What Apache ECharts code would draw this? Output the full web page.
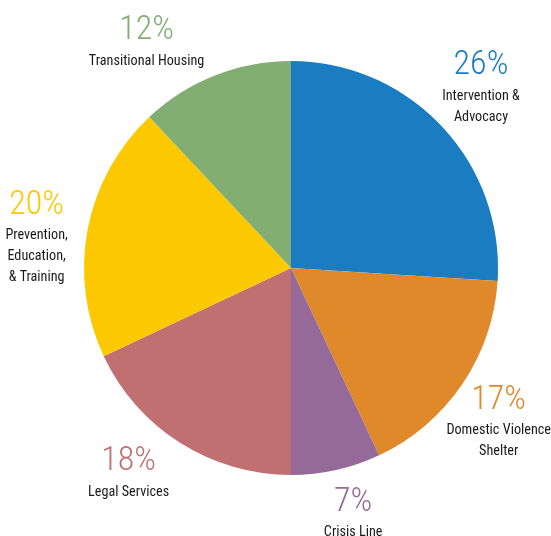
<!DOCTYPE html>
<html>
<head>
<meta charset="utf-8">
<script src="https://cdn.jsdelivr.net/npm/echarts@6/dist/echarts.min.js"></script>
<style>html,body{margin:0;padding:0;background:#fff;}#chart{width:551px;height:536px;}</style>
</head>
<body>
<div id="chart"></div>
<script>
const categories = ['Intervention &\nAdvocacy', 'Domestic Violence\nShelter', 'Crisis Line', 'Legal Services', 'Prevention,\nEducation,\n& Training', 'Transitional Housing'];
const values = [26, 17, 7, 18, 20, 12];
const colors = ['#1a7dc2', '#e0892a', '#956a98', '#c07070', '#fcc800', '#82ae74'];

const FONT = '"Roboto Condensed", "Liberation Sans", sans-serif';
const data = categories.map((c, i) => ({ name: c, value: values[i], itemStyle: { color: colors[i] } }));
const labelData = categories.map((c, i) => ({
  name: c, value: values[i],
  label: { rich: { p: { color: colors[i] } } }
}));
// small hand adjustments of label placement relative to the slice mid-angle
const labelNudge = [[-1, -2], [-9, 6], [5, -11], [-22, -17], [3, 18], [-48, 17]];

const chart = echarts.init(document.getElementById('chart'), null, { renderer: 'canvas' });
chart.setOption({
  animation: false,
  series: [
    {
      type: 'pie',
      center: [291, 268],
      radius: [0, 207],
      startAngle: 90,
      clockwise: true,
      data: data,
      label: { show: false },
      labelLine: { show: false },
      itemStyle: { borderWidth: 0 },
      silent: true
    },
    {
      type: 'pie',
      center: [291, 268],
      radius: [252, 266],
      startAngle: 90,
      clockwise: true,
      silent: true,
      data: labelData,
      itemStyle: { color: 'rgba(0,0,0,0)' },
      labelLine: { show: false },
      labelLayout: p => ({ dx: labelNudge[p.dataIndex][0], dy: labelNudge[p.dataIndex][1] }),
      label: {
        show: true,
        position: 'inside',
        formatter: p => '{p|' + p.value + '%}\n{n|' + p.name.split('\n').join('}\n{n|') + '}',
        rich: {
          p: { fontFamily: FONT, fontSize: 34, fontWeight: 300, lineHeight: 40, align: 'center' },
          n: { fontFamily: FONT, fontSize: 14.2, lineHeight: 21, color: '#1a1a1a', align: 'center' }
        }
      }
    }
  ]
});
</script>
</body>
</html>
